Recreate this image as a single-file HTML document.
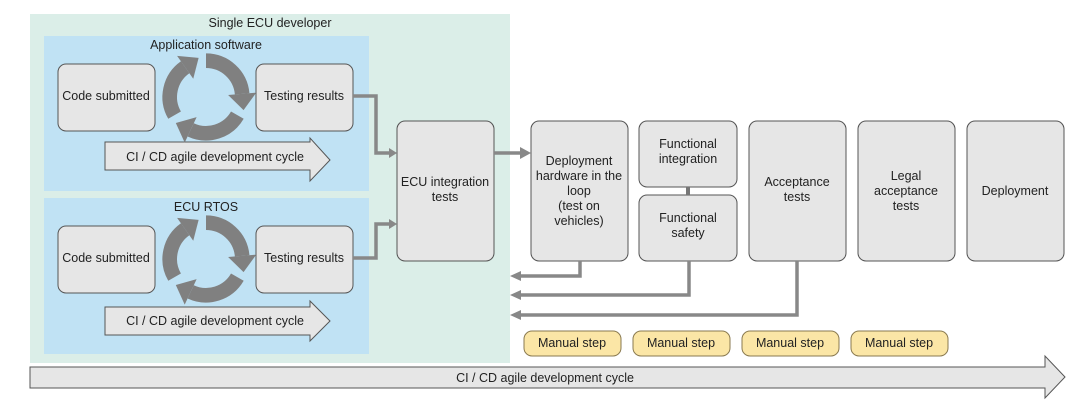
<!DOCTYPE html>
<html><head><meta charset="utf-8"><style>
html,body{margin:0;padding:0;background:#fff;}
svg{display:block;font-family:"Liberation Sans",sans-serif;}
text{fill:#222;font-size:12.5px;text-anchor:middle;}
</style></head><body>
<svg width="1080" height="404" viewBox="0 0 1080 404" xmlns="http://www.w3.org/2000/svg">
<defs>
<g id="cyc" fill="#808080" transform="translate(206,97) scale(1.17) translate(-206,-97)">
  <g fill="none" stroke="#808080" stroke-width="12.5">
    <path d="M179.15 112.5 A31 31 0 0 1 188.2 71.6"/>
    <path d="M206 66 A31 31 0 0 1 236.9 94.3"/>
    <path d="M232.8 112.5 A31 31 0 0 1 192.9 125.1"/>
  </g>
  <polygon points="181.3,61.8 195.1,81.4 199.7,63.6"/>
  <polygon points="248.9,93.3 224.9,95.3 238.1,108.2"/>
  <polygon points="187.8,136 198,114.2 180.2,119.2"/>
</g>
</defs>
<rect x="30" y="14" width="480" height="349" fill="#dbeee8"/>
<text x="270" y="27">Single ECU developer</text>
<rect x="44" y="36" width="325" height="155" fill="#c0e2f4"/>
<text x="206" y="49">Application software</text>
<rect x="44" y="198" width="325" height="156" fill="#c0e2f4"/>
<text x="206" y="211">ECU RTOS</text>

<g stroke="#555" stroke-width="1" fill="#e6e6e6">
<rect x="58" y="64" width="97" height="67" rx="8"/>
<rect x="256" y="64" width="97" height="67" rx="8"/>
<rect x="58" y="226" width="97" height="67" rx="8"/>
<rect x="256" y="226" width="97" height="67" rx="8"/>
<polygon points="105,142 310,142 310,138 330,160 310,181 310,170 105,170"/>
<polygon points="105,307 310,307 310,301 330,321 310,341 310,335 105,335"/>
<rect x="397" y="121" width="97" height="140" rx="8"/>
<rect x="531" y="121" width="97" height="140" rx="8"/>
<rect x="639" y="121" width="98" height="66" rx="8"/>
<rect x="639" y="195" width="98" height="66" rx="8"/>
<rect x="749" y="121" width="97" height="140" rx="8"/>
<rect x="858" y="121" width="97" height="140" rx="8"/>
<rect x="967" y="121" width="97" height="140" rx="8"/>
<polygon points="30,367 1045,367 1045,356 1065,377 1045,398 1045,388 30,388"/>
</g>
<use href="#cyc"/>
<use href="#cyc" transform="translate(0,162)"/>

<g fill="none" stroke="#888" stroke-width="3.5">
<polyline points="353,96 376,96 376,153 389,153"/>
<polyline points="353,258 376,258 376,224 389,224"/>
<polyline points="494,153 522,153"/>
<polyline points="580,261 580,276 520,276"/>
<polyline points="689,261 689,295 520,295"/>
<polyline points="797,261 797,315 520,315"/>
<line x1="688" y1="187" x2="688" y2="195" stroke="#777" stroke-width="4"/>
</g>
<g fill="#888">
<polygon points="389,148 397,153 389,158"/>
<polygon points="389,219 397,224 389,229"/>
<polygon points="520,147 531,153 520,159"/>
<polygon points="521,271 510,276 521,281"/>
<polygon points="521,290 510,295 521,300"/>
<polygon points="521,310 510,315 521,320"/>
</g>

<g fill="#fbe6a6" stroke="#8a7a50" stroke-width="1">
<rect x="524" y="331" width="97" height="25" rx="8"/>
<rect x="633" y="331" width="97" height="25" rx="8"/>
<rect x="742" y="331" width="97" height="25" rx="8"/>
<rect x="851" y="331" width="97" height="25" rx="8"/>
</g>

<text x="106" y="100">Code submitted</text>
<text x="304" y="100">Testing results</text>
<text x="106" y="262">Code submitted</text>
<text x="304" y="262">Testing results</text>
<text x="215" y="161">CI / CD agile development cycle</text>
<text x="215" y="325">CI / CD agile development cycle</text>
<text x="445" y="186">ECU integration</text>
<text x="445" y="201">tests</text>
<text x="579" y="165">Deployment</text>
<text x="579" y="180">hardware in the</text>
<text x="579" y="195">loop</text>
<text x="579" y="210">(test on</text>
<text x="579" y="225">vehicles)</text>
<text x="688" y="148">Functional</text>
<text x="688" y="163">integration</text>
<text x="688" y="222">Functional</text>
<text x="688" y="237">safety</text>
<text x="797" y="186">Acceptance</text>
<text x="797" y="201">tests</text>
<text x="906" y="180">Legal</text>
<text x="906" y="195">acceptance</text>
<text x="906" y="210">tests</text>
<text x="1015" y="195">Deployment</text>
<text x="572" y="347">Manual step</text>
<text x="681" y="347">Manual step</text>
<text x="790" y="347">Manual step</text>
<text x="899" y="347">Manual step</text>
<text x="545" y="382">CI / CD agile development cycle</text>
</svg>
</body></html>
